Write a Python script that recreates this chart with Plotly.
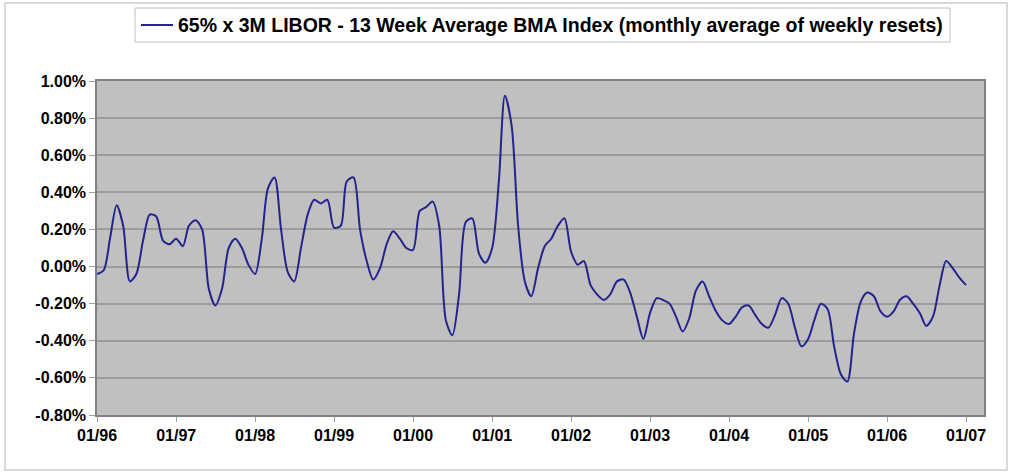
import pandas as pd
import plotly.graph_objects as go

# Monthly values (percent), Jan 1996 .. Jan 2007
values = [
    # 1996
    -0.04, -0.02, 0.15, 0.33, 0.22, -0.08, -0.04, 0.14, 0.28, 0.27, 0.14, 0.12,
    # 1997
    0.15, 0.11, 0.22, 0.25, 0.20, -0.12, -0.21, -0.12, 0.10, 0.15, 0.10, 0.01,
    # 1998
    -0.04, 0.15, 0.42, 0.48, 0.20, -0.03, -0.08, 0.10, 0.28, 0.36, 0.34, 0.36,
    # 1999
    0.21, 0.22, 0.46, 0.48, 0.20, 0.03, -0.07, -0.01, 0.12, 0.19, 0.15, 0.10,
    # 2000
    0.09, 0.30, 0.32, 0.35, 0.22, -0.29, -0.37, -0.15, 0.24, 0.26, 0.07, 0.02,
    # 2001
    0.10, 0.46, 0.92, 0.76, 0.22, -0.08, -0.16, -0.01, 0.11, 0.15, 0.22, 0.26,
    # 2002
    0.08, 0.01, 0.03, -0.10, -0.15, -0.18, -0.15, -0.08, -0.07, -0.14, -0.27, -0.39,
    # 2003
    -0.25, -0.17, -0.18, -0.20, -0.27, -0.35, -0.28, -0.13, -0.08, -0.16, -0.24, -0.29,
    # 2004
    -0.31, -0.27, -0.22, -0.21, -0.26, -0.31, -0.33, -0.26, -0.17, -0.20, -0.33, -0.43,
    # 2005
    -0.39, -0.28, -0.20, -0.23, -0.43, -0.58, -0.62, -0.36, -0.19, -0.14, -0.16, -0.24,
    # 2006
    -0.27, -0.24, -0.18, -0.16, -0.20, -0.25, -0.32, -0.27, -0.10, 0.03, -0.01, -0.06,
    # 2007
    -0.10,
]
dates = pd.date_range("1996-01-01", periods=len(values), freq="MS")

tick_dates = pd.date_range("1996-01-01", "2007-01-01", freq="YS")
tick_labels = ["01/96", "01/97", "01/98", "01/99", "01/00", "01/01",
               "01/02", "01/03", "01/04", "01/05", "01/06", "01/07"]
y_ticks = [-0.8, -0.6, -0.4, -0.2, 0.0, 0.2, 0.4, 0.6, 0.8, 1.0]
y_labels = ["-0.80%", "-0.60%", "-0.40%", "-0.20%", "0.00%",
            "0.20%", "0.40%", "0.60%", "0.80%", "1.00%"]
series_name = "65% x 3M LIBOR - 13 Week Average BMA Index (monthly average of weekly resets)"
line_color = "#23238E"

fig = go.Figure()
fig.add_trace(go.Scatter(
    x=dates, y=values, mode="lines", name=series_name,
    line=dict(color=line_color, width=2, shape="spline", smoothing=0.8),
))

# Plot area in pixels: left 97, right 984, top 81, bottom 415
W_PLOT, H_PLOT, L, B = 887.0, 334.0, 97.0, 415.0
def px(x):
    return (x - L) / W_PLOT
def py(y):
    return (B - y) / H_PLOT

font_family = "Liberation Sans, Arial, sans-serif"
fig.update_layout(
    width=1012, height=473,
    margin=dict(l=97, r=28, t=81, b=58),
    paper_bgcolor="white",
    plot_bgcolor="#C0C0C0",
    font=dict(family=font_family, size=16, color="black"),
    showlegend=False,
    xaxis=dict(
        type="date",
        range=["1996-01-01", "2007-03-25"],
        tickvals=tick_dates, ticktext=tick_labels,
        showgrid=False, zeroline=False,
        showline=True, linecolor="#808080", linewidth=1.5, mirror=True,
        ticks="outside", ticklen=5, tickcolor="#A0A0A0",
        tickfont=dict(family=font_family, size=16, weight="bold"),
    ),
    yaxis=dict(
        range=[-0.8, 1.0],
        tickvals=y_ticks, ticktext=y_labels,
        showgrid=True, gridcolor="#9C9C9C", gridwidth=1.5,
        zeroline=False,
        showline=True, linecolor="#808080", linewidth=1.5, mirror=True,
        ticks="outside", ticklen=6, tickcolor="#A0A0A0",
        tickfont=dict(family=font_family, size=16, weight="bold"),
    ),
    shapes=[
        # outer chart border
        dict(type="rect", xref="paper", yref="paper",
             x0=px(5), x1=px(1007), y0=py(470), y1=py(3),
             line=dict(color="#D9D9D9", width=2), layer="below"),
        # legend box
        dict(type="rect", xref="paper", yref="paper",
             x0=px(135), x1=px(950), y0=py(42), y1=py(8),
             line=dict(color="#BFBFBF", width=1), fillcolor="white"),
        # legend line sample
        dict(type="line", xref="paper", yref="paper",
             x0=px(141), x1=px(173), y0=py(25), y1=py(25),
             line=dict(color=line_color, width=2)),
    ],
    annotations=[dict(
        xref="paper", yref="paper", x=px(176), y=py(25),
        xanchor="left", yanchor="middle", showarrow=False,
        text=series_name,
        font=dict(family=font_family, size=19.5, color="black", weight="bold"),
    )],
)

fig.write_html(
    "out.html",
    config={"displayModeBar": False},
    post_script="document.body.style.margin='0';document.body.style.padding='0';",
)
